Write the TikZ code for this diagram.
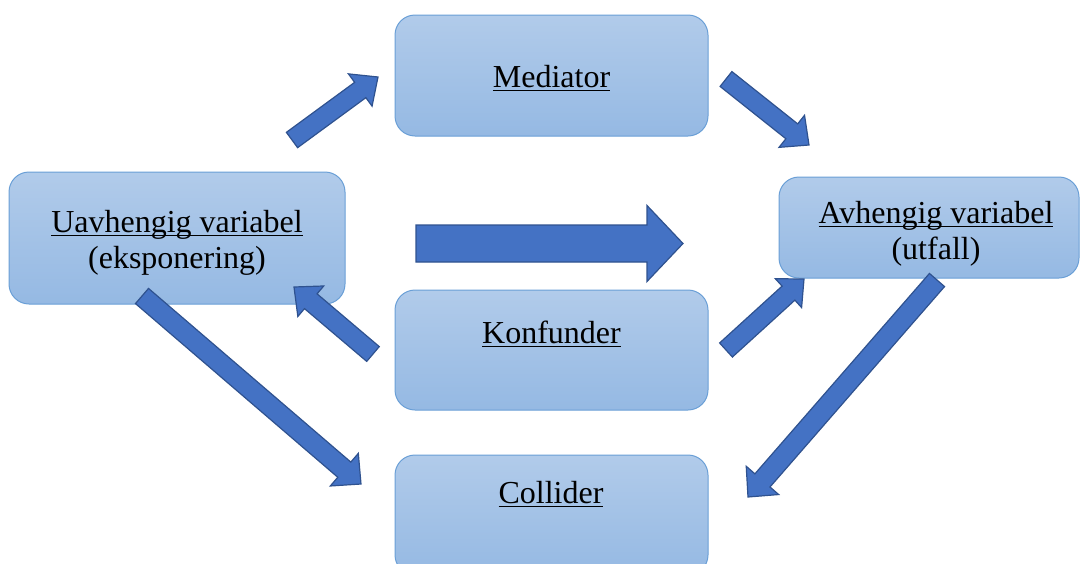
\documentclass[tikz,border=0pt]{standalone}
\usepackage{fontspec}
\setmainfont{Liberation Serif}
\usetikzlibrary{calc}
\definecolor{arrowfill}{HTML}{4472C4}
\definecolor{arrowline}{HTML}{2F528F}
\definecolor{boxtop}{HTML}{B1CBEA}
\definecolor{boxbot}{HTML}{95B9E3}
\definecolor{boxline}{HTML}{6A9FD6}
\newcommand{\ulin}[1]{\setbox0\hbox{#1}\rlap{\rule[-4.3pt]{\wd0}{1.8pt}}\box0}
\newcommand{\blockarrow}[5]{%
  \coordinate (hb) at ($(#2)!#5!(#1)$);
  \draw[barrow] ($(#1)!#3!90:(#2)$) -- ($(hb)!#3!90:(#2)$) -- ($(hb)!#4!90:(#2)$) -- (#2)
    -- ($(hb)!#4!-90:(#2)$) -- ($(hb)!#3!-90:(#2)$) -- ($(#1)!#3!-90:(#2)$) -- cycle;
}
\tikzset{
  box/.style={draw=boxline, line width=1pt, rounded corners=20pt, top color=boxtop,
    bottom color=boxbot, inner sep=0pt},
  lbl/.style={anchor=base, inner sep=0pt, font=\fontsize{32}{36}\selectfont},
  barrow/.style={fill=arrowfill, draw=arrowline, line width=1.2pt, line join=miter}
}
\begin{document}
\begin{tikzpicture}[x=1pt, y=-1pt]
\path[use as bounding box, clip] (0,0) rectangle (1080,563);
% boxes
\node[box, minimum width=313pt, minimum height=121pt] (med) at (551.5,75.5) {};
\node[box, minimum width=336pt, minimum height=132pt] (uav) at (177,238) {};
\node[box, minimum width=300pt, minimum height=101pt] (avh) at (929,227.5) {};
\node[box, minimum width=313pt, minimum height=120pt] (konf) at (551.5,350) {};
\node[box, minimum width=313pt, minimum height=120pt] (coll) at (551.5,515) {};
% labels
\node[lbl] (medT) at (551.5,87) {\ulin{Mediator}};
\node[lbl] (uavT1) at (177,232) {\ulin{Uavhengig variabel}};
\node[lbl] (uavT2) at (177,268) {(eksponering)};
\node[lbl] (avhT1) at (936,223) {\ulin{Avhengig variabel}};
\node[lbl] (avhT2) at (936,259) {(utfall)};
\node[lbl] (konfT) at (551.5,343) {\ulin{Konfunder}};
\node[lbl] (collT) at (551,503) {\ulin{Collider}};
% arrow end points
\coordinate (a1t) at (292,140); \coordinate (a1h) at (378,77);
\coordinate (a2t) at (726,79);  \coordinate (a2h) at (809,145);
\coordinate (a3t) at (416,243.5); \coordinate (a3h) at (683,243.5);
\coordinate (a4t) at (373,354); \coordinate (a4h) at (294,287);
\coordinate (a5t) at (142,296); \coordinate (a5h) at (361,484);
\coordinate (a6t) at (726,350); \coordinate (a6h) at (804,279);
\coordinate (a7t) at (937,280); \coordinate (a7h) at (748,497);
% arrows
\blockarrow{a1t}{a1h}{9.5pt}{20pt}{22pt}
\blockarrow{a2t}{a2h}{9.5pt}{20.5pt}{22pt}
\blockarrow{a3t}{a3h}{18.5pt}{38pt}{36pt}
\blockarrow{a4t}{a4h}{9.7pt}{20pt}{22pt}
\blockarrow{a5t}{a5h}{10pt}{21.5pt}{22pt}
\blockarrow{a6t}{a6h}{9.5pt}{19.5pt}{21pt}
\blockarrow{a7t}{a7h}{10pt}{21.5pt}{22pt}
\end{tikzpicture}
\end{document}
